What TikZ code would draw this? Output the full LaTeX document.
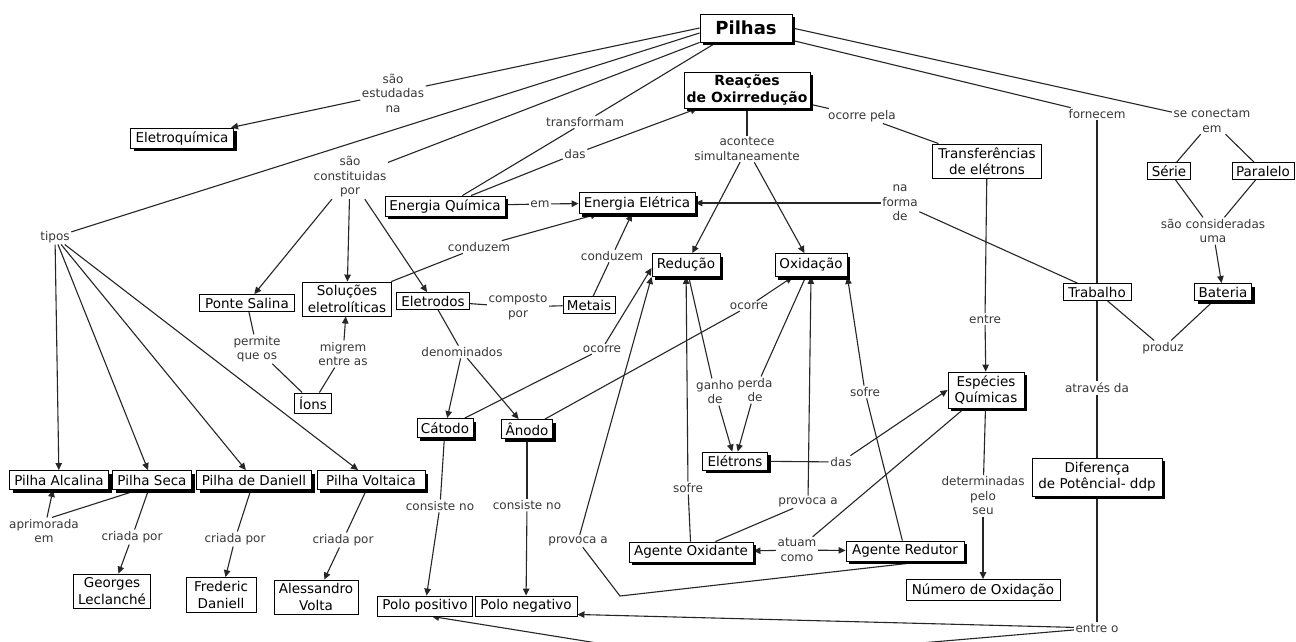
\documentclass[tikz,border=0pt]{standalone}
\usepackage{fontspec}
\setmainfont{DejaVu Sans}
\usetikzlibrary{arrows.meta,shadows,calc,backgrounds}

\begin{document}
\begin{tikzpicture}[x=1pt,y=-1pt,
  concept/.style={draw=black, line width=0.9pt, fill=white, align=center,
    inner xsep=2pt, inner ysep=1pt, font=\fontsize{13.5}{16.5}\selectfont},
  shadowed/.style={concept, drop shadow={opacity=1, fill=black, shadow xshift=3pt, shadow yshift=-3pt}},
  link/.style={align=center, inner sep=1.5pt, text=black!78, font=\fontsize{12}{14.5}\selectfont},
  conn/.style={draw=black!85, line width=1.1pt},
  arr/.style={conn, -{Triangle[length=7pt,width=6.5pt]}}
]
\useasboundingbox (0,0) rectangle (1296,641);

% ---------- concepts ----------
\node[shadowed, font=\fontsize{18}{20}\selectfont\bfseries, minimum width=92pt, minimum height=28pt] (pilhas) at (746,28) {Pilhas};
\node[shadowed, font=\fontsize{14}{16.5}\selectfont\bfseries, minimum width=126pt, minimum height=36pt] (reac) at (747,90) {Reações\\de Oxirredução};
\node[shadowed, minimum width=103pt, minimum height=20pt] (eletroq) at (182,138) {Eletroquímica};
\node[shadowed, minimum width=120pt, minimum height=20pt] (enq) at (445,206) {Energia Química};
\node[shadowed, minimum width=116pt, minimum height=21pt] (ene) at (637,203) {Energia Elétrica};
\node[concept, minimum width=109pt, minimum height=34pt] (transf) at (987,161) {Transferências\\de elétrons};
\node[concept, minimum width=43pt, minimum height=17pt] (serie) at (1169,171) {Série};
\node[concept, minimum width=62pt, minimum height=17pt] (paralelo) at (1263,171) {Paralelo};
\node[concept, minimum width=95pt, minimum height=17pt] (ponte) at (247,303) {Ponte Salina};
\node[concept, minimum width=89pt, minimum height=34pt] (solu) at (347,299) {Soluções\\eletrolíticas};
\node[concept, minimum width=73pt, minimum height=17pt] (eletrodos) at (433,301) {Eletrodos};
\node[concept, minimum width=52pt, minimum height=17pt] (metais) at (589,305) {Metais};
\node[shadowed, minimum width=68pt, minimum height=23pt] (reducao) at (686,265) {Redução};
\node[shadowed, minimum width=72pt, minimum height=23pt] (oxidacao) at (811,265) {Oxidação};
\node[concept, minimum width=68pt, minimum height=17pt] (trabalho) at (1097,292) {Trabalho};
\node[shadowed, minimum width=57pt, minimum height=17pt] (bateria) at (1223,292) {Bateria};
\node[concept, minimum width=37pt, minimum height=20pt] (ions) at (313,403) {Íons};
\node[shadowed, minimum width=76pt, minimum height=36pt] (especies) at (986,390) {Espécies\\Químicas};
\node[shadowed, minimum width=56pt, minimum height=19pt] (catodo) at (445,428) {Cátodo};
\node[shadowed, minimum width=51pt, minimum height=19pt] (anodo) at (527,429) {Ânodo};
\node[shadowed, minimum width=65pt, minimum height=18pt] (eletrons) at (735,461) {Elétrons};
\node[shadowed, minimum width=99pt, minimum height=19pt] (alcalina) at (59,480) {Pilha Alcalina};
\node[shadowed, minimum width=79pt, minimum height=19pt] (seca) at (152,480) {Pilha Seca};
\node[shadowed, minimum width=115pt, minimum height=19pt] (daniell) at (254,480) {Pilha de Daniell};
\node[shadowed, minimum width=108pt, minimum height=19pt] (voltaica) at (371,480) {Pilha Voltaica};
\node[shadowed, minimum width=130pt, minimum height=38pt] (ddp) at (1097,477) {Diferença\\de Potêncial- ddp};
\node[concept, minimum width=77pt, minimum height=34pt] (leclanche) at (112,591) {Georges\\Leclanché};
\node[concept, minimum width=70pt, minimum height=35pt] (fdaniell) at (221,595) {Frederic\\Daniell};
\node[concept, minimum width=84pt, minimum height=34pt] (volta) at (316,597) {Alessandro\\Volta};
\node[shadowed, minimum width=124pt, minimum height=20pt] (oxidante) at (691,552) {Agente Oxidante};
\node[shadowed, minimum width=118pt, minimum height=20pt] (redutor) at (905,551) {Agente Redutor};
\node[concept, minimum width=154pt, minimum height=21pt] (nox) at (983,590) {Número de Oxidação};
\node[concept, minimum width=95pt, minimum height=20pt] (polopos) at (425,606) {Polo positivo};
\node[concept, minimum width=102pt, minimum height=20pt] (poloneg) at (526,606) {Polo negativo};

% ---------- linking phrases ----------
\node[link] (l_estud) at (393,93) {são\\estudadas\\na};
\node[link] (l_transf) at (585,122) {transformam};
\node[link] (l_das1) at (575,154) {das};
\node[link] (l_acont) at (747,149) {acontece\\simultaneamente};
\node[link] (l_ocpela) at (862,116) {ocorre pela};
\node[link] (l_fornec) at (1097,114) {fornecem};
\node[link] (l_conect) at (1212,121) {se conectam\\em};
\node[link] (l_const) at (350,177) {são\\constituidas\\por};
\node[link] (l_em) at (540,204) {em};
\node[link] (l_forma) at (900,203) {na\\forma\\de};
\node[link] (l_tipos) at (55,237) {tipos};
\node[link] (l_cond1) at (479,247) {conduzem};
\node[link] (l_cond2) at (612,256) {conduzem};
\node[link] (l_compo) at (518,307) {composto\\por};
\node[link] (l_consid) at (1213,231) {são consideradas\\uma};
\node[link] (l_permite) at (257,349) {permite\\que os};
\node[link] (l_migrem) at (343,354) {migrem\\entre as};
\node[link] (l_denom) at (462,352) {denominados};
\node[link] (l_ocorre1) at (602,349) {ocorre};
\node[link] (l_ocorre2) at (749,306) {ocorre};
\node[link] (l_produz) at (1163,348) {produz};
\node[link] (l_ganho) at (715,392) {ganho\\de};
\node[link] (l_perda) at (755,390) {perda\\de};
\node[link] (l_sofre2) at (865,392) {sofre};
\node[link] (l_entre) at (985,319) {entre};
\node[link] (l_atraves) at (1097,388) {através da};
\node[link] (l_das2) at (841,462) {das};
\node[link] (l_sofre1) at (688,488) {sofre};
\node[link] (l_provoca2) at (808,502) {provoca a};
\node[link] (l_determ) at (983,496) {determinadas\\pelo\\seu};
\node[link] (l_consist1) at (440,506) {consiste no};
\node[link] (l_consist2) at (527,505) {consiste no};
\node[link] (l_aprim) at (44,531) {aprimorada\\em};
\node[link] (l_criada1) at (132,537) {criada por};
\node[link] (l_criada2) at (235,539) {criada por};
\node[link] (l_criada3) at (343,540) {criada por};
\node[link] (l_provoca1) at (578,541) {provoca a};
\node[link] (l_atuam) at (797,550) {atuam\\como};
\node[link] (l_entreo) at (1097,628) {entre o};

% ---------- connectors ----------
\begin{scope}[on background layer]
\fill[white] (0,0) rectangle (1296,641);

\draw[conn] (pilhas.west) -- (l_estud);
\draw[arr] (l_estud) -- (eletroq);

\draw[conn] ($(pilhas.west)+(0,5)$) -- (l_tipos);
\draw[arr] (l_tipos) -- (alcalina);
\draw[arr] (l_tipos) -- (seca);
\draw[arr] (l_tipos) -- (daniell);
\draw[arr] (l_tipos) -- (voltaica);

\draw[conn] (pilhas.south west) -- (l_const);
\draw[arr] (l_const) -- (ponte);
\draw[arr] (l_const) -- (solu);
\draw[arr] (l_const) -- (eletrodos);

\draw[conn] ($(pilhas.south west)+(17,0)$) -- (l_transf);
\draw[conn] (l_transf) -- (enq);
\draw[conn] (enq) -- (l_das1);
\draw[arr] (l_das1) -- (reac);
\draw[conn] (enq) -- (l_em);
\draw[arr] (l_em) -- (ene);

\draw[conn] (reac) -- (l_acont);
\draw[arr] (l_acont) -- (reducao);
\draw[arr] (l_acont) -- (oxidacao);
\draw[conn] (reac) -- (l_ocpela);
\draw[conn] (l_ocpela) -- (transf);
\draw[conn] (transf) -- (l_entre);
\draw[arr] (l_entre) -- (especies);

\draw[conn] ($(pilhas.south east)+(0,-2)$) -- (l_fornec);
\draw[conn] (l_fornec) -- (trabalho);
\draw[conn] (pilhas.east) -- (l_conect);
\draw[conn] (l_conect) -- (serie);
\draw[conn] (l_conect) -- (paralelo);
\draw[conn] (serie) -- (l_consid);
\draw[conn] (paralelo) -- (l_consid);
\draw[arr] (l_consid) -- (bateria);
\draw[conn] (bateria) -- (l_produz);
\draw[conn] (l_produz) -- (trabalho);

\draw[conn] (trabalho) -- (l_forma);
\draw[arr] (l_forma) -- (ene);
\draw[conn] (trabalho) -- (l_atraves);
\draw[conn] (l_atraves) -- (ddp);
\draw[conn] (ddp) -- (l_entreo);
\draw[arr] (l_entreo) -- ($(poloneg.south east)+(0,-2)$);
\draw[arr] (l_entreo) -- (709,661) -- ($(polopos.south)+(7,0)$);

\draw[conn] (solu) -- (l_cond1);
\draw[arr] (l_cond1) -- (ene);
\draw[conn] (metais) -- (l_cond2);
\draw[arr] (l_cond2) -- (ene);
\draw[conn] (eletrodos) -- (l_compo);
\draw[conn] (l_compo) -- (metais);
\draw[conn] (ponte) -- (l_permite);
\draw[conn] (l_permite) -- (ions);
\draw[conn] (ions) -- (l_migrem);
\draw[arr] (l_migrem) -- (solu);

\draw[conn] (eletrodos) -- (l_denom);
\draw[arr] (l_denom) -- (catodo);
\draw[arr] (l_denom) -- (anodo);
\draw[conn] (catodo) -- (l_ocorre1);
\draw[arr] (l_ocorre1) -- ($(reducao.west)+(0,3)$);
\draw[conn] (anodo) -- (l_ocorre2);
\draw[arr] (l_ocorre2) -- ($(oxidacao.south west)+(18,0)$);

\draw[conn] (reducao) -- (l_ganho);
\draw[arr] (l_ganho) -- (eletrons);
\draw[conn] (oxidacao) -- (l_perda);
\draw[arr] (l_perda) -- (eletrons);

\draw[conn] (oxidante) -- (l_sofre1);
\draw[arr] (l_sofre1) -- (reducao);
\draw[conn] (oxidante) -- (l_provoca2);
\draw[arr] (l_provoca2) -- (oxidacao.south);
\draw[conn] (redutor) -- (l_sofre2);
\draw[arr] (l_sofre2) -- (oxidacao.south east);
\draw[conn] ($(redutor.south)+(20,0)$) -- (620,596) -- (l_provoca1);
\draw[arr] (l_provoca1) -- (reducao.south west);

\draw[conn] (especies) -- (l_atuam);
\draw[arr] (l_atuam) -- (oxidante);
\draw[arr] (l_atuam) -- (redutor);
\draw[conn] (eletrons) -- (l_das2);
\draw[arr] (l_das2) -- (especies.west);
\draw[conn] (especies) -- (l_determ);
\draw[arr] (l_determ) -- (nox);

\draw[conn] ($(seca.south)+(-14,0)$) -- ($(l_aprim.north)+(8,0)$);
\draw[arr] ($(l_aprim.north)+(3,0)$) -- ($(alcalina.south)+(-6,0)$);
\draw[conn] (seca) -- (l_criada1);
\draw[arr] (l_criada1) -- (leclanche);
\draw[conn] (daniell) -- (l_criada2);
\draw[arr] (l_criada2) -- (fdaniell);
\draw[conn] (voltaica) -- (l_criada3);
\draw[arr] (l_criada3) -- (volta);

\draw[conn] (catodo) -- (l_consist1);
\draw[arr] (l_consist1) -- (polopos);
\draw[conn] (anodo) -- (l_consist2);
\draw[arr] (l_consist2) -- (poloneg);
\end{scope}
\end{tikzpicture}
\end{document}
